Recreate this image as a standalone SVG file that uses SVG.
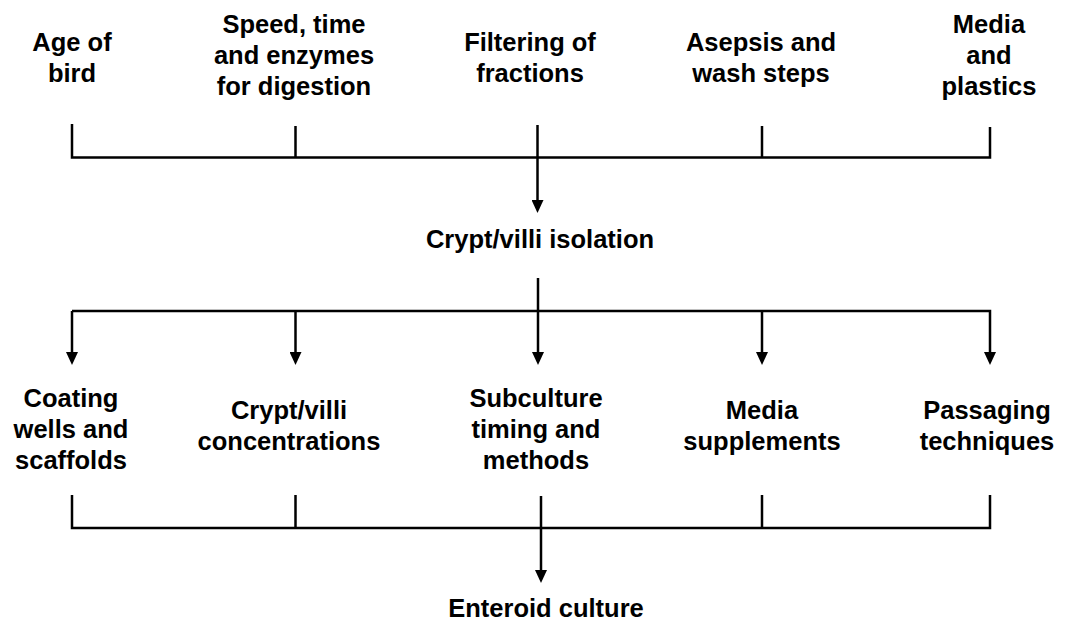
<svg xmlns="http://www.w3.org/2000/svg" width="1065" height="628" viewBox="0 0 1065 628">
<style>
.t{font-family:"Liberation Sans",Arial,sans-serif;font-weight:bold;font-size:25.5px;fill:#000;text-anchor:middle}
.c{stroke:#000;stroke-width:2.5;fill:none}
</style>
<defs>
<marker id="ah" viewBox="0 0 13 12" refX="3" refY="6" markerWidth="13" markerHeight="12" markerUnits="userSpaceOnUse" orient="auto">
<path d="M0,0 L13,6 L0,12 z" fill="#000"/>
</marker>
</defs>
<rect width="1065" height="628" fill="#fff"/>
<g id="connectors">
<path class="c" d="M72,124 V157.5 H990 V127"/>
<path class="c" d="M295.5,126 V157.5 M762,126 V157.5"/>
<path class="c" d="M537.5,125 V203" marker-end="url(#ah)"/>
<path class="c" d="M538,278 V355" marker-end="url(#ah)"/>
<path class="c" d="M72,311 H990 V355" marker-end="url(#ah)"/>
<path class="c" d="M72,311 V355" marker-end="url(#ah)"/>
<path class="c" d="M295.5,311 V355" marker-end="url(#ah)"/>
<path class="c" d="M762,311 V355" marker-end="url(#ah)"/>
<path class="c" d="M72,495 V528 H990 V495"/>
<path class="c" d="M295.5,495 V528 M762,495 V528"/>
<path class="c" d="M541,496 V573" marker-end="url(#ah)"/>
</g>
<g id="age"><text class="t" x="72" y="51">Age of</text><text class="t" x="72" y="82">bird</text></g>
<g id="speed"><text class="t" x="294" y="33">Speed, time</text><text class="t" x="294" y="64">and enzymes</text><text class="t" x="294" y="95">for digestion</text></g>
<g id="filter"><text class="t" x="530" y="51">Filtering of</text><text class="t" x="530" y="82">fractions</text></g>
<g id="asepsis"><text class="t" x="761" y="51">Asepsis and</text><text class="t" x="761" y="82">wash steps</text></g>
<g id="media"><text class="t" x="989" y="33">Media</text><text class="t" x="989" y="64">and</text><text class="t" x="989" y="95">plastics</text></g>
<g id="isolation"><text class="t" x="540" y="248">Crypt/villi isolation</text></g>
<g id="coating"><text class="t" x="71" y="407">Coating</text><text class="t" x="71" y="438">wells and</text><text class="t" x="71" y="469">scaffolds</text></g>
<g id="conc"><text class="t" x="289" y="419">Crypt/villi</text><text class="t" x="289" y="450">concentrations</text></g>
<g id="subculture"><text class="t" x="536" y="407">Subculture</text><text class="t" x="536" y="438">timing and</text><text class="t" x="536" y="469">methods</text></g>
<g id="supplements"><text class="t" x="762" y="419">Media</text><text class="t" x="762" y="450">supplements</text></g>
<g id="passaging"><text class="t" x="987" y="419">Passaging</text><text class="t" x="987" y="450">techniques</text></g>
<g id="enteroid"><text class="t" x="546" y="617">Enteroid culture</text></g>
</svg>
